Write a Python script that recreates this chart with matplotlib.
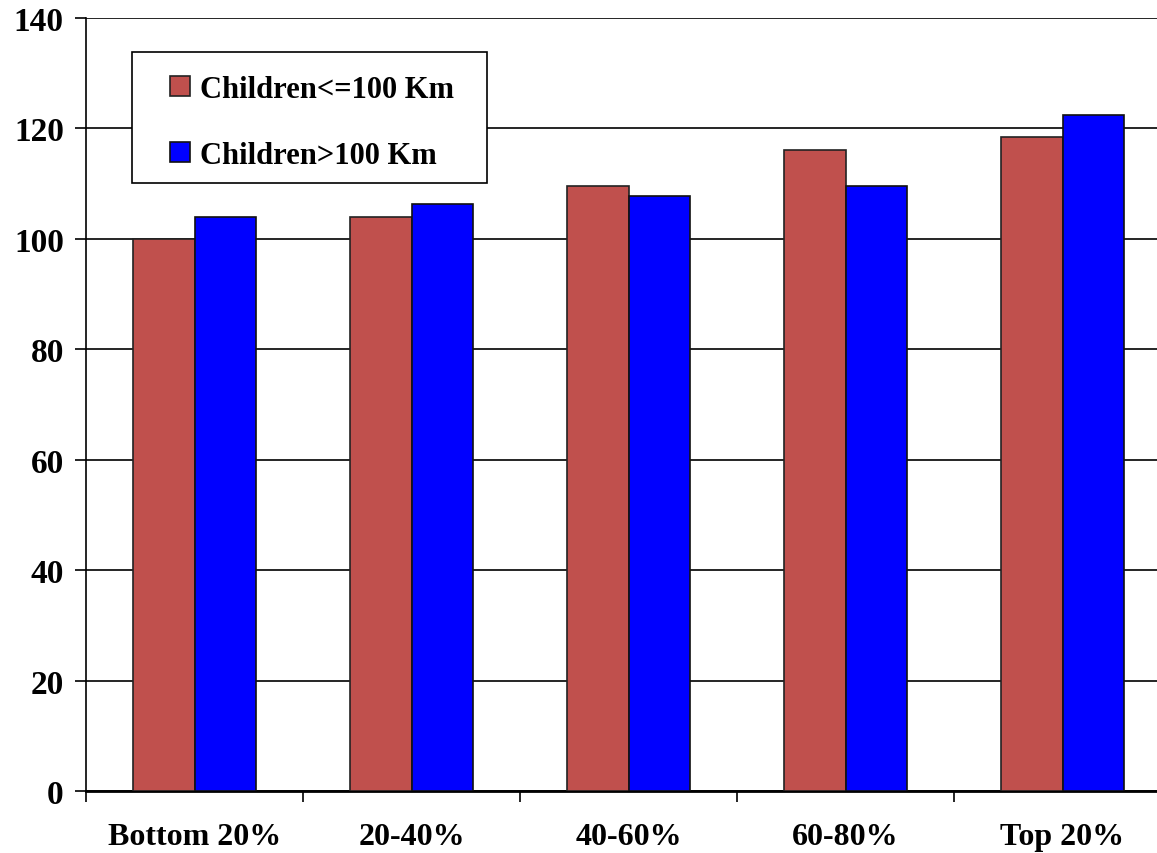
import numpy as np
import matplotlib.pyplot as plt
from matplotlib.patches import Rectangle

# Werte
categories = ['Bottom 20%', '20-40%', '40-60%', '60-80%', 'Top 20%']
near = [100.0, 104.0, 109.6, 116.1, 118.5]
far = [104.0, 106.4, 107.8, 109.5, 122.5]
labels = ['Children<=100 Km', 'Children>100 Km']

plt.rcParams['font.family'] = ['Liberation Serif', 'DejaVu Serif']
plt.rcParams['font.weight'] = 'bold'

W, H = 1157, 854
fig = plt.figure(figsize=(W/100, H/100), dpi=100)
ax = fig.add_axes([86/W, 62/H, 1 - 86/W, (792-19)/H])

x = np.arange(len(categories))
w = 0.285
ax.bar(x - w/2, near, w, color='#C0504D', edgecolor='#222222', linewidth=1.2, label=labels[0], zorder=3)
ax.bar(x + w/2, far, w, color='#0000FF', edgecolor='#111111', linewidth=1.2, label=labels[1], zorder=3)

ax.set_ylim(0, 140)
ax.set_yticks(np.arange(0, 141, 20))
ax.grid(axis='y', color='black', linewidth=1.2, zorder=0)

# Ticks an den Kategoriegrenzen, Beschriftung in der Mitte
ax.set_xticks(np.arange(-0.5, 4.6, 1.0))
ax.set_xticklabels([])
ax.set_xticks(x, minor=True)
ax.set_xticklabels(categories, minor=True, fontsize=23, fontweight='bold')
ax.set_xlim(-0.5, 4.5 - 14/217)  # Bild rechts abgeschnitten
ax.tick_params(axis='x', which='minor', length=0, pad=22)
ax.tick_params(axis='x', which='major', length=8, width=1.2, direction='out')
ax.tick_params(axis='y', length=8, width=1.2, labelsize=24, pad=8)
for t in ax.get_yticklabels():
    t.set_fontweight('bold')

for s in ['top', 'right']:
    ax.spines[s].set_visible(False)
ax.spines['left'].set_linewidth(1.2)
ax.spines['bottom'].set_linewidth(2.0)

# Legendenrahmen separat, damit die Innenabstaende passen
box = Rectangle((132/W, 1 - 184/H), (487-132)/W, (184-53)/H, transform=fig.transFigure,
                facecolor='white', edgecolor='black', linewidth=1.2, zorder=4, clip_on=False)
ax.add_patch(box)

leg = ax.legend(loc='upper left', bbox_to_anchor=(170/W, 1 - 76/H), bbox_transform=fig.transFigure,
                fontsize=22, frameon=False,
                labelspacing=1.2, handlelength=0.65, handleheight=0.65, handletextpad=0.33,
                borderpad=0, borderaxespad=0)
leg.set_zorder(5)
for t in leg.get_texts():
    t.set_fontweight('bold')

fig.savefig('out.png', dpi=100)
